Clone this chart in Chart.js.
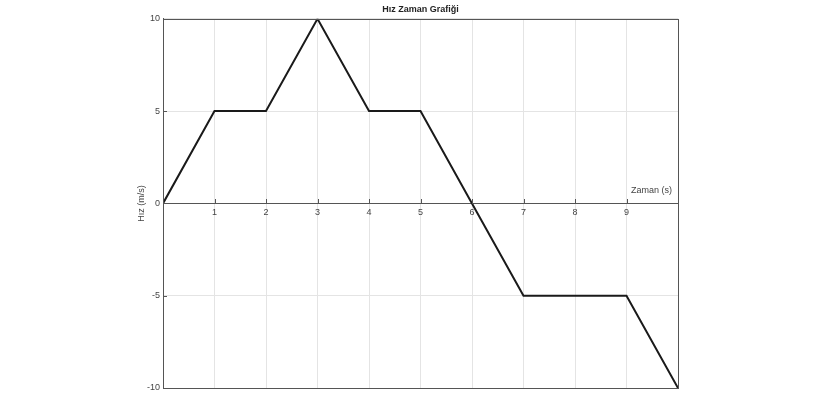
<!DOCTYPE html>
<html>
<head>
<meta charset="utf-8">
<script src="https://cdn.jsdelivr.net/npm/chart.js@4/dist/chart.umd.min.js"></script>
<style>
html,body{margin:0;padding:0;background:#fff;}
#wrap{width:825px;height:410px;}
</style>
</head>
<body>
<div id="wrap"><canvas id="c" width="825" height="410"></canvas></div>
<script>
const timeValues = [0, 1, 2, 3, 4, 5, 6, 7, 8, 9, 10];
const speedValues = [0, 5, 5, 10, 5, 5, 0, -5, -5, -5, -10];
const xTickValues = [1, 2, 3, 4, 5, 6, 7, 8, 9];
const yTickValues = [-10, -5, 0, 5, 10];
const chartTitle = 'Hız Zaman Grafiği';
const xTitle = 'Zaman (s)';
const yTitle = 'Hız (m/s)';

const FONT = "'Liberation Sans', Arial, sans-serif";

const framePlugin = {
  id: 'frame',
  afterDraw(chart) {
    const ctx = chart.ctx;
    const a = chart.chartArea;
    const xs = chart.scales.x, ys = chart.scales.y;
    ctx.save();
    ctx.strokeStyle = '#555';
    ctx.lineWidth = 1;
    ctx.strokeRect(Math.round(a.left) + 0.5, Math.round(a.top) + 0.5,
                   Math.round(a.right - a.left), Math.round(a.bottom - a.top));
    ctx.beginPath();
    yTickValues.forEach(v => {
      const y = Math.round(ys.getPixelForValue(v)) + 0.5;
      ctx.moveTo(a.left, y); ctx.lineTo(a.left + 4, y);
    });
    const y0 = Math.round(ys.getPixelForValue(0));
    xTickValues.forEach(v => {
      const x = Math.round(xs.getPixelForValue(v)) + 0.5;
      ctx.moveTo(x, y0 - 4); ctx.lineTo(x, y0 + 1);
    });
    ctx.stroke();
    ctx.fillStyle = '#444';
    ctx.font = '9px ' + FONT;
    ctx.textAlign = 'right';
    ctx.textBaseline = 'alphabetic';
    ctx.fillText(xTitle, a.right - 6, y0 - 10);
    ctx.restore();
  }
};

new Chart(document.getElementById('c'), {
  type: 'line',
  data: {
    datasets: [{
      data: timeValues.map((t, i) => ({x: t, y: speedValues[i]})),
      borderColor: '#1a1a1a',
      borderWidth: 2,
      pointRadius: 0,
      tension: 0,
      fill: false
    }]
  },
  options: {
    responsive: false,
    animation: false,
    layout: {padding: {left: 131, right: 147, top: 0, bottom: 22}},
    plugins: {
      legend: {display: false},
      tooltip: {enabled: false},
      title: {
        display: true,
        text: chartTitle,
        fullSize: false,
        color: '#222',
        font: {family: FONT, size: 9, weight: 'bold'},
        padding: {top: 4, bottom: 4}
      }
    },
    scales: {
      x: {
        type: 'linear',
        min: 0, max: 10,
        position: {y: 0},
        afterBuildTicks: s => { s.ticks = timeValues.map(v => ({value: v})); },
        ticks: {
          callback: v => xTickValues.includes(v) ? String(v) : '',
          color: '#444',
          font: {family: FONT, size: 9},
          padding: 4,
          maxRotation: 0,
          autoSkip: false
        },
        grid: {color: '#e4e4e4', lineWidth: 1, drawTicks: false},
        border: {color: '#555', width: 1}
      },
      y: {
        type: 'linear',
        min: -10, max: 10,
        afterBuildTicks: s => { s.ticks = yTickValues.map(v => ({value: v})); },
        afterFit: s => { s.width = 32; },
        ticks: {
          color: '#444',
          font: {family: FONT, size: 9},
          padding: 3
        },
        grid: {color: '#e4e4e4', lineWidth: 1, drawTicks: false},
        border: {color: '#555', width: 1},
        title: {
          display: true,
          text: yTitle,
          color: '#444',
          font: {family: FONT, size: 9},
          padding: {top: 5, bottom: 0}
        }
      }
    }
  },
  plugins: [framePlugin]
});
</script>
</body>
</html>
